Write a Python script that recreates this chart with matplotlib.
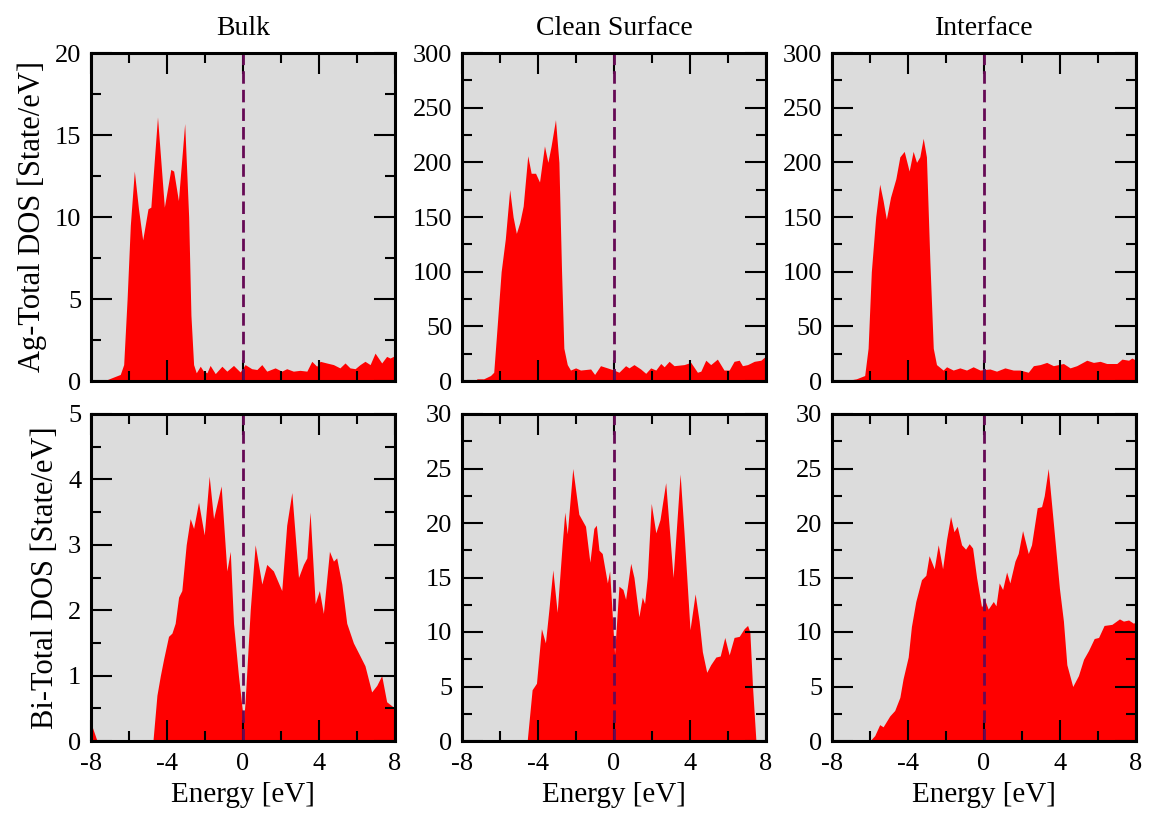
import matplotlib
matplotlib.use("Agg")
import matplotlib.pyplot as plt
from matplotlib.ticker import MultipleLocator

plt.rcParams["font.family"] = ["Liberation Serif", "DejaVu Serif"]
plt.rcParams["axes.unicode_minus"] = False

# Ag total DOS, bulk
ag_bulk_e = [-8.0, -7.33, -6.9, -6.46, -6.28, -6.1, -5.93, -5.72, -5.5, -5.28, -5.0, -4.85, -4.5,
             -4.14, -3.8, -3.65, -3.4, -3.07, -2.86, -2.74, -2.6, -2.46, -2.25, -2.08, -1.9, -1.73,
             -1.46, -1.11, -0.85, -0.5, -0.15, 0.11, 0.46, 0.73, 0.99, 1.25, 1.69, 2.04, 2.3, 2.65,
             3.0, 3.36, 3.62, 3.88, 4.06, 4.4, 4.76, 5.1, 5.37, 5.63, 5.9, 6.16, 6.42, 6.69, 6.95,
             7.3, 7.56, 7.74, 8.0]
ag_bulk_d = [0.0, 0.0, 0.2, 0.4, 1.0, 5.0, 9.5, 12.8, 10.5, 8.6, 10.5, 10.6, 16.1,
             10.6, 12.9, 12.8, 11.0, 15.7, 10.0, 4.0, 1.0, 0.5, 0.9, 0.6, 0.5, 0.95,
             0.45, 0.9, 0.6, 0.95, 0.55, 1.0, 0.75, 0.7, 1.0, 0.6, 0.8, 0.6, 0.75, 0.6,
             0.65, 0.6, 1.2, 0.9, 1.2, 1.1, 1.0, 0.8, 1.1, 0.8, 0.75, 1.0, 1.2, 1.0, 1.7,
             1.1, 1.5, 1.4, 1.55]

# Ag total DOS, clean surface
ag_surf_e = [-8.0, -7.3, -7.21, -6.86, -6.5, -6.33, -6.15, -5.94, -5.72, -5.49, -5.31, -5.14, -4.96,
             -4.78, -4.54, -4.36, -4.13, -3.92, -3.66, -3.48, -3.31, -3.08, -2.9, -2.76, -2.64,
             -2.46, -2.29, -2.02, -1.76, -1.23, -1.02, -0.71, -0.35, 0.0, 0.26, 0.61, 0.79, 1.05,
             1.4, 1.67, 1.93, 2.2, 2.46, 2.64, 2.9, 3.16, 3.69, 4.04, 4.39, 4.57, 4.83, 5.09,
             5.44, 5.79, 6.06, 6.32, 6.59, 6.76, 7.03, 7.38, 7.73, 8.0]
ag_surf_d = [0, 0, 2, 2, 5, 8, 50, 100, 130, 175, 150, 135, 145,
             160, 206, 190, 190, 182, 215, 200, 215, 239, 200, 100, 30,
             15, 10, 12, 10, 11, 6, 14, 12, 10, 8, 14, 12, 15,
             11, 7, 12, 10, 16, 13, 18, 14, 15, 17, 8, 9, 19, 15,
             20, 10, 10, 18, 19, 14, 15, 18, 19, 23]

# Ag total DOS, interface
ag_int_e = [-8.0, -7.1, -7.07, -6.72, -6.28, -6.1, -5.93, -5.7, -5.49, -5.31, -5.14, -4.92, -4.64,
            -4.43, -4.2, -3.94, -3.73, -3.55, -3.38, -3.2, -3.03, -2.85, -2.67, -2.5, -2.15,
            -1.97, -1.62, -1.27, -0.92, -0.57, -0.21, 0.31, 0.66, 1.1, 1.54, 1.9, 2.33, 2.6,
            2.95, 3.3, 3.65, 4.18, 4.53, 4.88, 5.41, 5.76, 6.11, 6.46, 6.99, 7.26, 7.61, 7.78, 8.0]
ag_int_d = [0, 0, 1, 2, 5, 30, 100, 150, 180, 165, 148, 168, 185,
            205, 210, 192, 210, 200, 205, 222, 205, 110, 30, 15, 10,
            13, 10, 12, 10, 13, 10, 11, 9, 12, 10, 10, 8, 14,
            15, 17, 14, 16, 12, 14, 19, 17, 18, 16, 16, 20, 19, 21, 19]

# Bi total DOS, bulk
bi_bulk_e = [-8.0, -7.68, -4.74, -4.53, -4.35, -4.18, -3.92, -3.74, -3.57, -3.39, -3.22, -2.99, -2.78,
             -2.6, -2.34, -2.04, -1.78, -1.55, -1.15, -0.85, -0.67, -0.5, -0.24, 0.03, 0.11,
             0.38, 0.64, 0.99, 1.25, 1.6, 2.04, 2.3, 2.57, 2.92, 3.18, 3.36, 3.53, 3.8, 4.02,
             4.23, 4.55, 4.76, 4.93, 5.2, 5.46, 5.81, 6.16, 6.42, 6.77, 7.04, 7.3, 7.56, 8.0]
bi_bulk_d = [0.27, 0.0, 0.0, 0.7, 1.0, 1.25, 1.6, 1.65, 1.8, 2.2, 2.3, 3.0, 3.4,
             3.25, 3.65, 3.15, 4.05, 3.4, 3.9, 2.6, 2.9, 1.8, 1.0, 0.3, 0.6,
             2.0, 3.0, 2.4, 2.7, 2.6, 2.3, 3.3, 3.8, 2.5, 2.7, 2.8, 3.5, 2.1, 2.3,
             1.95, 2.9, 2.75, 2.8, 2.4, 1.8, 1.5, 1.3, 1.15, 0.75, 0.85, 1.0, 0.6, 0.5]

# Bi total DOS, clean surface
bi_surf_e = [-8.0, -4.57, -4.31, -4.08, -3.82, -3.61, -3.43, -3.22, -2.99, -2.73, -2.59, -2.46, -2.17,
             -1.85, -1.5, -1.27, -1.06, -0.93, -0.79, -0.62, -0.35, -0.23, -0.04, 0.03, 0.26,
             0.47, 0.61, 0.88, 1.05, 1.31, 1.49, 1.61, 1.75, 1.96, 2.2, 2.42, 2.72, 2.93, 3.11,
             3.48, 3.69, 4.0, 4.27, 4.48, 4.65, 4.88, 5.09, 5.36, 5.59, 5.83, 6.06, 6.32, 6.59,
             6.85, 7.03, 7.15, 7.29, 7.47, 8.0]
bi_surf_d = [0, 0, 4.7, 5.3, 10.3, 9.0, 12, 15.7, 11.8, 18, 21, 19, 25,
             20.8, 19.7, 16.4, 19.5, 19.8, 17.5, 17.2, 14.5, 15.6, 10, 8, 14.2,
             13.9, 13, 16.3, 15, 11.4, 13.2, 12.6, 15, 21.8, 19.1, 20.3, 23.7, 19, 15,
             24.5, 19, 10.2, 13.5, 11, 8.2, 6.3, 7.0, 7.7, 7.8, 9.5, 7.9, 9.5, 9.6,
             10.3, 10.6, 10, 5, 0, 0]

# Bi total DOS, interface
bi_int_e = [-8.0, -6.01, -5.75, -5.49, -5.31, -4.96, -4.7, -4.43, -4.26, -3.99, -3.82, -3.59, -3.29,
            -3.06, -2.89, -2.62, -2.41, -2.18, -1.97, -1.76, -1.58, -1.41, -1.18, -0.97, -0.78,
            -0.6, -0.39, -0.13, 0.05, 0.22, 0.49, 0.63, 0.8, 0.98, 1.19, 1.36, 1.63, 1.8, 2.03,
            2.33, 2.5, 2.8, 3.03, 3.17, 3.38, 3.65, 3.97, 4.18, 4.36, 4.67, 4.97, 5.24, 5.5,
            5.8, 6.03, 6.32, 6.73, 7.13, 7.34, 7.61, 7.87, 8.0]
bi_int_d = [0, 0, 0.5, 1.5, 1.3, 2.3, 2.8, 4.0, 5.7, 7.7, 10.5, 12.8, 14.8,
            15.2, 17.0, 15.8, 18.0, 15.8, 18.5, 20.6, 19.2, 19.7, 18.0, 17.6, 18.1,
            17.7, 15, 12.3, 12.9, 12.1, 12.8, 12.4, 14.5, 13.9, 15.5, 14.5, 16.5, 17.2, 19.3,
            17.2, 18, 21.4, 21.5, 22.5, 25, 20, 14, 11, 7, 5.0, 6.0, 7.5, 8.3,
            9.4, 9.5, 10.6, 10.7, 11.2, 11.0, 11.1, 10.8, 11.0]

titles = ["Bulk", "Clean Surface", "Interface"]
ylabels = ["Ag-Total DOS [State/eV]", "Bi-Total DOS [State/eV]"]
top_data = [(ag_bulk_e, ag_bulk_d, 20, 5), (ag_surf_e, ag_surf_d, 300, 50), (ag_int_e, ag_int_d, 300, 50)]
bot_data = [(bi_bulk_e, bi_bulk_d, 5, 1), (bi_surf_e, bi_surf_d, 30, 5), (bi_int_e, bi_int_d, 30, 5)]

W, H = 1154, 816
fig = plt.figure(figsize=(W / 100, H / 100), dpi=100)
lefts = [91, 462, 832]
rows = [(53, 381), (414, 741)]
width = 304

for r, data in enumerate([top_data, bot_data]):
    top, bot = rows[r]
    for c, (e, d, ymax, ystep) in enumerate(data):
        ax = fig.add_axes([lefts[c] / W, 1 - bot / H, width / W, (bot - top) / H])
        ax.set_facecolor("#dcdcdc")
        ax.fill_between(e, d, 0, color="red", lw=0)
        ax.axvline(0, color="#660a55", lw=2, dashes=(4.5, 2.2))
        ax.set_xlim(-8, 8)
        ax.set_ylim(0, ymax)
        ax.xaxis.set_major_locator(MultipleLocator(4))
        ax.xaxis.set_minor_locator(MultipleLocator(2))
        ax.yaxis.set_major_locator(MultipleLocator(ystep))
        ax.yaxis.set_minor_locator(MultipleLocator(ystep / 2))
        ax.tick_params(which="both", direction="in", top=True, right=True, labelsize=19, width=1.5)
        ax.tick_params(which="major", length=15, pad=7)
        ax.tick_params(which="minor", length=7.5)
        ax.tick_params(axis="x", which="major", pad=9)
        for s in ax.spines.values():
            s.set_linewidth(2.2)
        if r == 0:
            ax.set_title(titles[c], fontsize=20, pad=13)
            ax.tick_params(labelbottom=False)
        else:
            ax.set_xlabel("Energy [eV]", fontsize=21, labelpad=5)
        if c == 0:
            ax.set_ylabel(ylabels[r], fontsize=22, labelpad=6)

fig.savefig("out.png", dpi=100)
